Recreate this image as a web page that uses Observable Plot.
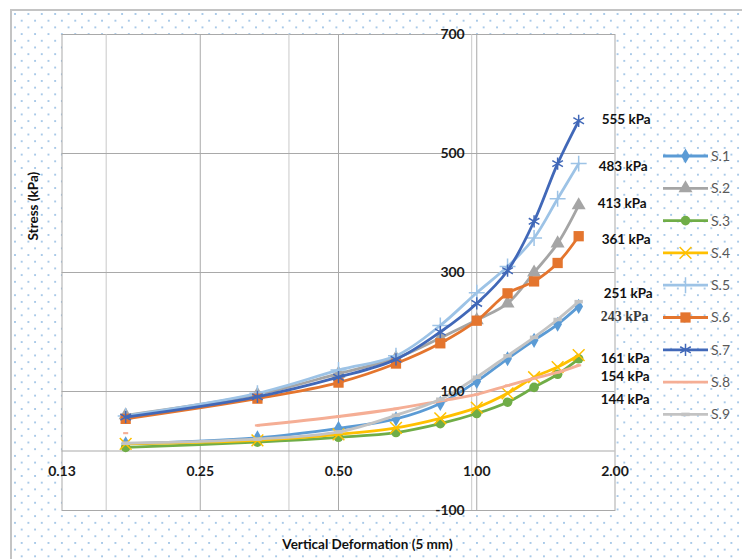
<!DOCTYPE html>
<html>
<head>
<meta charset="utf-8">
<script src="https://cdn.jsdelivr.net/npm/d3@7"></script>
<script src="https://cdn.jsdelivr.net/npm/@observablehq/plot@0.6"></script>
<style>
  html, body { margin: 0; padding: 0; background: #fff; }
  #wrap { position: relative; width: 742px; height: 559px; overflow: hidden; }
  #bg {
    position: absolute; left: 10px; top: 9px; right: -4px; bottom: -4px;
    border-left: 2px solid #c4c4c4; border-top: 2px solid #c4c4c4;
    background-color: #fff;
    background-image:
      radial-gradient(circle, #a8c9e8 0.9px, transparent 1.4px),
      radial-gradient(circle, #a8c9e8 0.9px, transparent 1.4px);
    background-size: 13.4px 13.4px;
    background-position: 3px 3px, 9.7px 9.7px;
  }
  #chart { position: absolute; left: 0; top: 0; }
  #legend { position: absolute; left: 0; top: 0; pointer-events: none; }
</style>
</head>
<body>
<div id="wrap"><div id="bg"></div><div id="chart"></div><svg id="legend" width="742" height="559"></svg></div>
<script>
// ---------------- data ----------------
const seriesNames = ["S.1", "S.2", "S.3", "S.4", "S.5", "S.6", "S.7", "S.8", "S.9"];
const deformation = [0.172, 0.333, 0.5, 0.667, 0.833, 1.0, 1.167, 1.333, 1.5, 1.667];
const S1 = [12, 22, 38, 54, 80, 117, 155, 186, 213, 243];
const S2 = [60, 95, 130, 156, 190, 220, 248, 300, 349, 413];
const S3 = [6, 15, 23, 31, 46, 63, 82, 107, 129, 155];
const S4 = [12, 18, 28, 39, 55, 73, 97, 124, 141, 161];
const S5 = [59, 97, 136, 160, 211, 266, 310, 358, 424, 483];
const S6 = [54, 88, 115, 147, 181, 219, 265, 285, 316, 361];
const S7 = [57, 91, 124, 154, 200, 248, 303, 386, 483, 555];
const S8 = [30, 43, 58, 71, 84, 95, 110, 122, 132, 144];
const S9 = [13, 20, 32, 60, 87, 124, 160, 191, 221, 251];
const xTickValues = [0.125, 0.25, 0.5, 1, 2];
const xTickLabels = ["0.13", "0.25", "0.50", "1.00", "2.00"];
const xMinorGrid = [0.156, 0.39, 0.975];
const yTickValues = [-100, 100, 300, 500, 700];
const endLabels = ["555 kPa", "483 kPa", "413 kPa", "361 kPa", "251 kPa", "243 kPa", "161 kPa", "154 kPa", "144 kPa"];
const endLabelSeries = ["S.7", "S.5", "S.2", "S.6", "S.9", "S.1", "S.4", "S.3", "S.8"];

// ---------------- styles ----------------
const values = [S1, S2, S3, S4, S5, S6, S7, S8, S9];
const colors = ["#5B9BD5", "#A5A5A5", "#70AD47", "#FFC000", "#9DC3E6", "#E4752E", "#4168B8", "#F5AE95", "#C3C3C3"];
const dash = { draw(ctx, size) { const w = Math.sqrt(size) * 0.95, h = w * 0.42; ctx.rect(-w / 2, -h / 2, w, h); } };
const plotSymbols = ["diamond", "triangle", "circle", "times", "plus", "square", "asterisk", dash, dash];
const d3Symbols = [d3.symbolDiamond, d3.symbolTriangle, d3.symbolCircle, d3.symbolTimes, d3.symbolPlus, d3.symbolSquare, d3.symbolAsterisk, dash, dash];
const strokeSymbol = [false, false, false, true, true, false, true, false, false];
const symR = [4.6, 5.2, 4.8, 5.4, 5.2, 5.8, 5.8, 3, 5];
const labelDy = [-1, 3, -2, 3, -8, 10, 3, 18, 34];
const labelDx = [23, 20, 19, 23, 25, 22, 22, 22, 22];

const rows = seriesNames.flatMap((s, i) => deformation.map((x, j) => ({ series: s, idx: j, x, y: values[i][j] })));

const marks = [
  Plot.frame({ fill: "white", stroke: "#a9a9a9" }),
  Plot.gridX(xMinorGrid, { stroke: "#c9c9c9", strokeOpacity: 1 }),
  Plot.gridX([0.25, 0.5], { stroke: "#a9a9a9", strokeOpacity: 1 }),
  Plot.gridY([100, 300, 500], { stroke: "#a9a9a9", strokeOpacity: 1 }),
  Plot.ruleY([0], { stroke: "#a9a9a9" }),
  Plot.ruleX([1], { stroke: "#a9a9a9" })
];

seriesNames.forEach((s, i) => {
  // S.8 has a gap between its first and second reading
  const lineData = rows.filter(d => d.series === s && !(s === "S.8" && d.idx === 0));
  const dotData = rows.filter(d => d.series === s);
  marks.push(Plot.line(lineData, { x: "x", y: "y", stroke: colors[i], strokeWidth: 2.8, curve: "catmull-rom" }));
  marks.push(Plot.dot(dotData, strokeSymbol[i]
    ? { x: "x", y: "y", symbol: () => plotSymbols[i], r: symR[i], stroke: colors[i], strokeWidth: 1.5, fill: "none" }
    : { x: "x", y: "y", symbol: () => plotSymbols[i], r: symR[i], fill: colors[i], stroke: "none" }));
});

// tick labels
const xTickRows = xTickValues.map((v, i) => ({ v, t: xTickLabels[i] }));
marks.push(Plot.text(xTickRows, { x: "v", y: () => 0, text: "t", dy: 21, fontSize: 14, fontWeight: "bold", fill: "#1a1a1a" }));
marks.push(Plot.text(yTickValues, { x: () => 1, y: d => d, text: d => String(d), textAnchor: "end", dx: -12, fontSize: 14, fontWeight: "bold", fill: "#1a1a1a" }));

// end labels
const endRows = endLabels.map((t, k) => {
  const si = seriesNames.indexOf(endLabelSeries[k]);
  return { t, k, x: deformation[deformation.length - 1], y: values[si][values[si].length - 1] };
});
endRows.forEach(d => {
  const serif = d.t === "243 kPa";
  marks.push(Plot.text([d], {
    x: "x", y: "y", text: "t", textAnchor: "start", dx: labelDx[d.k], dy: labelDy[d.k],
    fontSize: serif ? 14 : 13.5, fontWeight: "bold",
    fontFamily: serif ? "Liberation Serif" : "Lato", fill: serif ? "#3a3a3a" : "#111"
  }));
});

// axis titles
marks.push(Plot.text(["Stress (kPa)"], { frameAnchor: "left", rotate: -90, dx: -28, dy: -32, fontSize: 13.5, fontWeight: "bold", fill: "#111" }));
marks.push(Plot.text(["Vertical Deformation (5 mm)"], { frameAnchor: "bottom", dx: 29, dy: 38, fontSize: 13.5, fontWeight: "bold", fill: "#111" }));

const chart = Plot.plot({
  width: 742, height: 559,
  marginLeft: 61.5, marginRight: 127.5, marginTop: 34, marginBottom: 49,
  x: { type: "log", base: 2, domain: [0.125, 2], axis: null },
  y: { domain: [-100, 700], axis: null },
  style: { background: "transparent", fontFamily: "Lato", overflow: "visible" },
  marks
});
document.getElementById("chart").appendChild(chart);

// legend
const lg = d3.select("#legend");
const legendY0 = 156, legendStep = 32.3;
seriesNames.forEach((s, i) => {
  const y = legendY0 + i * legendStep;
  const g = lg.append("g");
  g.append("line").attr("x1", 663).attr("x2", 708).attr("y1", y).attr("y2", y)
    .attr("stroke", colors[i]).attr("stroke-width", 2.8);
  const sym = d3.symbol().type(d3Symbols[i]).size(Math.PI * symR[i] * symR[i]);
  const p = g.append("path").attr("d", sym()).attr("transform", `translate(685.5,${y})`);
  if (strokeSymbol[i]) p.attr("fill", "none").attr("stroke", colors[i]).attr("stroke-width", 1.5);
  else p.attr("fill", colors[i]);
  g.append("text").attr("x", 711).attr("y", y).attr("dy", "0.35em")
    .attr("font-family", "Lato").attr("font-size", 14).attr("fill", "#595959").text(s);
});
</script>
</body>
</html>
